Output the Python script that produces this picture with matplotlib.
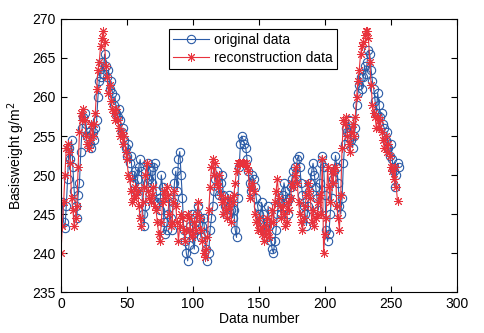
import matplotlib
matplotlib.use("Agg")
import matplotlib.pyplot as plt
import numpy as np

original = [
    246.5, 244.0, 243.2, 246.0, 249.5, 253.5, 252.0, 254.5, 251.0, 248.0,
    246.0, 244.5, 247.5, 249.0, 253.0, 256.0, 257.5, 258.0, 256.5, 255.0,
    255.5, 254.0, 253.5, 255.5, 254.5, 256.0, 257.0, 260.0, 262.0, 262.5,
    264.5, 263.0, 265.5, 264.0, 262.5, 263.5, 261.0, 262.0, 260.5, 259.0,
    260.0, 258.0, 257.5, 258.5, 257.0, 255.5, 256.0, 254.5, 253.5, 252.5,
    254.0, 251.5, 252.5, 250.0, 249.0, 250.5, 248.0, 249.5, 251.0, 252.0,
    250.5, 245.0, 243.5, 246.0, 249.0, 251.5, 249.5, 250.5, 249.0, 251.0,
    251.5, 248.0, 246.5, 247.0, 245.5, 250.0, 248.5, 244.0, 242.5, 243.0,
    245.0, 247.0, 244.5, 243.0, 246.5, 249.0, 250.5, 248.0, 252.0, 253.0,
    250.0, 247.0, 243.0, 241.5, 240.0, 239.0, 241.0, 243.5, 245.0, 242.5,
    240.5, 243.0, 245.0, 246.0, 244.5, 242.0, 243.5, 244.5, 242.5, 240.5,
    239.0, 240.0, 243.0, 244.5, 246.0, 248.0, 249.5, 250.5, 248.5, 247.5,
    249.0, 250.0, 247.5, 246.0, 245.0, 246.5, 247.5, 246.0, 245.5, 244.5,
    245.5, 243.0, 242.0, 247.0, 251.0, 254.0, 255.0, 254.5, 254.0, 253.5,
    252.0, 250.5, 249.0, 248.0, 250.0, 249.5, 248.5, 247.0, 246.0, 245.0,
    244.0, 246.5, 245.0, 243.5, 242.0, 244.0, 246.0, 243.5, 241.5, 240.5,
    240.0, 241.5, 243.0, 245.0, 247.0, 246.5, 245.0, 247.5, 249.0, 248.0,
    246.5, 245.0, 247.0, 248.5, 249.5, 250.5, 251.0, 249.5, 252.0, 252.5,
    251.0, 249.0, 247.5, 246.0, 245.0, 243.5, 246.0, 248.0, 249.0, 250.5,
    251.5, 250.0, 248.5, 247.0, 245.5, 249.0, 251.5, 252.5, 251.0, 247.5,
    243.0, 241.5, 242.5, 245.0, 247.0, 249.5, 250.5, 252.5, 251.0, 249.0,
    246.0, 245.0, 247.0, 251.5, 254.0, 256.0, 255.5, 257.0, 256.0, 254.5,
    253.5, 255.0, 256.0, 259.0, 260.5, 261.5, 262.5, 261.0, 262.5, 264.0,
    263.0, 264.5, 266.0, 265.5, 263.5, 262.0, 261.0, 259.5, 258.0, 260.5,
    259.0, 257.5, 258.0, 256.5, 256.0, 254.5, 255.5, 253.5, 252.5, 254.0,
    252.0, 250.5, 248.5, 250.0, 251.5, 251.0,
]

reconstruction = [
    240.0, 243.5, 246.5, 250.0, 253.5, 254.0, 253.0, 251.5, 247.0, 245.5,
    243.5, 244.5, 246.0, 251.0, 255.5, 258.0, 257.0, 258.5, 257.0, 255.0,
    254.0, 253.5, 254.5, 256.5, 255.0, 256.5, 258.0, 261.0, 263.5, 264.5,
    266.5, 267.5, 268.5, 267.0, 264.0, 262.5, 260.5, 261.5, 259.5, 258.5,
    258.0, 257.0, 258.5, 257.0, 256.0, 255.0, 255.5, 254.0, 255.0, 253.0,
    252.0, 250.0, 249.5, 248.0, 246.5, 247.0, 248.5, 247.5, 248.0, 246.0,
    244.5, 243.5, 246.5, 248.5, 250.0, 251.5, 248.0, 247.0, 246.5, 247.5,
    248.5, 246.0, 245.5, 244.0, 242.5, 241.5, 244.0, 246.5, 248.0, 247.0,
    248.5, 247.5, 245.0, 243.5, 244.0, 246.5, 248.0, 246.0, 244.0, 241.5,
    243.5, 245.0, 244.5, 243.0, 241.5, 243.0, 245.0, 244.5, 243.0, 242.0,
    242.5, 244.0, 243.0, 245.0, 246.5, 244.5, 243.0, 241.5, 240.0, 239.5,
    240.5, 242.0, 245.5, 248.5, 251.0, 252.0, 250.0, 251.5, 249.0, 248.5,
    250.0, 247.5, 246.5, 245.0, 247.0, 245.5, 244.5, 246.0, 247.0, 244.0,
    246.5, 247.5, 249.0, 250.5, 251.5, 251.5, 251.5, 251.5, 251.5, 251.5,
    251.5, 251.0, 250.5, 247.0, 248.5, 249.0, 248.0, 245.0, 244.0, 243.0,
    244.5, 243.0, 242.5, 243.5, 241.5, 242.5, 244.5, 243.0, 242.0, 244.0,
    245.5, 244.0, 246.5, 248.0, 249.5, 247.0, 246.0, 244.5, 246.0, 245.0,
    243.5, 244.0, 246.5, 245.5, 247.0, 249.0, 248.5, 250.0, 251.0, 249.0,
    246.5, 245.0, 244.0, 243.0, 244.5, 246.0, 247.5, 249.0, 248.0, 247.0,
    244.0, 245.5, 243.5, 244.5, 245.0, 246.5, 247.5, 245.0, 252.0, 240.0,
    242.5, 244.5, 251.0, 248.5, 246.5, 250.5, 249.0, 250.5, 251.0, 246.0,
    244.5, 243.0, 247.5, 253.5, 257.0, 256.5, 257.5, 255.0, 254.0, 253.0,
    255.5, 256.5, 255.0, 257.5, 260.0, 262.0, 263.5, 265.5, 266.5, 267.0,
    268.0, 268.5, 268.5, 267.5, 264.5, 261.5, 259.0, 258.0, 257.5, 256.0,
    257.5, 256.0, 257.0, 255.5, 254.5, 253.5, 255.0, 253.0, 254.0, 252.5,
    251.0, 250.5, 249.5, 251.0, 248.5, 246.7,
]

x_ticks = [0, 50, 100, 150, 200, 250, 300]
y_ticks = [235, 240, 245, 250, 255, 260, 265, 270]

plt.rcParams['font.family'] = ['Liberation Sans', 'DejaVu Sans']

fig = plt.figure(figsize=(4.84, 3.33), dpi=100)
ax = fig.add_axes([0.126, 0.123, 0.818, 0.820])

n = np.arange(1, len(original) + 1)
ax.plot(n, original, '-o', color='#2B5BA6', lw=0.8, ms=6, mfc='none',
        mew=0.8, label='original data')
ax.plot(np.arange(len(reconstruction)), reconstruction, '-', marker=(8, 2, 0),
        color='#E8323C', lw=0.8, ms=6.5, mew=0.7, label='reconstruction data')

ax.set_xlim(0, 300)
ax.set_ylim(235, 270)
ax.set_xticks(x_ticks)
ax.set_yticks(y_ticks)
ax.tick_params(direction='in', top=True, right=True, labelsize=10, length=4, width=0.8)
for s in ax.spines.values():
    s.set_linewidth(0.8)
ax.set_xlabel('Data number', fontsize=10, labelpad=1)
ax.set_ylabel('Basisweight g/m$^2$', fontsize=10, labelpad=4)

leg = ax.legend(loc='upper center', bbox_to_anchor=(0.485, 0.965), fontsize=10,
                fancybox=False, edgecolor='black', framealpha=1, numpoints=1,
                handlelength=2.6, borderpad=0.3, labelspacing=0.3,
                handletextpad=0.4, borderaxespad=0)
leg.get_frame().set_linewidth(0.8)

fig.savefig('out.png', dpi=100)
